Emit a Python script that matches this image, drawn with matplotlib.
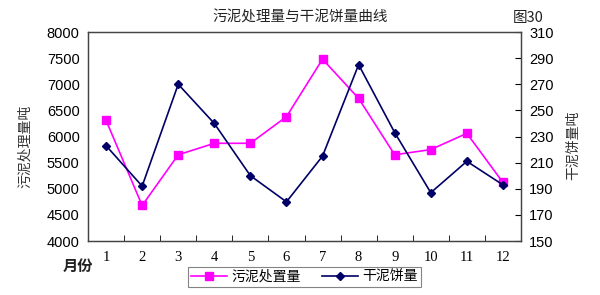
import matplotlib
matplotlib.use("Agg")
import matplotlib.pyplot as plt
import numpy as np

plt.rcParams['font.family'] = ['Noto Sans CJK SC', 'DejaVu Sans']

months = ["1", "2", "3", "4", "5", "6", "7", "8", "9", "10", "11", "12"]
sludge = [6310, 4680, 5650, 5870, 5870, 6380, 7480, 6730, 5650, 5750, 6060, 5120]
cake = [223, 192, 270, 240, 200, 180, 215, 285, 233, 187, 211, 193]
left_ticks = [4000, 4500, 5000, 5500, 6000, 6500, 7000, 7500, 8000]
right_ticks = [150, 170, 190, 210, 230, 250, 270, 290, 310]

fig = plt.figure(figsize=(6, 2.95), dpi=100)
ax = fig.add_axes([0.1467, 0.183, 0.7216, 0.7085])
ax2 = ax.twinx()

x = np.arange(1, len(months) + 1)
l1, = ax.plot(x, sludge, color="#FF00FF", marker="s", markersize=6,
              linewidth=1.2, label="污泥处置量")
l2, = ax2.plot(x, cake, color="#000066", marker="D", markersize=4.5,
               linewidth=1.2, label="干泥饼量")

ax.set_xlim(0.5, 12.5)
ax.set_ylim(4000, 8000)
ax2.set_ylim(150, 310)
ax.set_yticks(left_ticks)
ax2.set_yticks(right_ticks)
ax.set_xticks(x)
ax.set_xticklabels(months, family="Liberation Serif", fontsize=10.5)
ax.set_xticks(np.arange(0.5, 13, 1), minor=True)
ax.tick_params(axis="x", which="major", length=0, pad=7)
ax.tick_params(axis="x", which="minor", direction="in", length=4)
ax.tick_params(axis="y", direction="in", length=0, labelsize=10.5, pad=6)
ax2.tick_params(axis="y", direction="in", length=4, labelsize=10.5, pad=6)
for lab in ax.get_yticklabels() + ax2.get_yticklabels():
    lab.set_family("Liberation Sans")

for sp in list(ax.spines.values()) + list(ax2.spines.values()):
    sp.set_color("#444444")
    sp.set_linewidth(0.9)

fig.text(0.5, 0.94, "污泥处理量与干泥饼量曲线", ha="center", va="center",
         fontsize=10.5, color="#222222")
fig.text(0.88, 0.94, "图30", ha="center", va="center", fontsize=10.5,
         color="#222222")
fig.text(0.042, 0.505, "污泥处理量吨", rotation=90, ha="center", va="center",
         fontsize=10, color="#333333")
fig.text(0.955, 0.508, "干泥饼量吨", rotation=90, ha="center", va="center",
         fontsize=10, color="#333333")
fig.text(0.13, 0.1, "月份", ha="center", va="center", fontsize=11,
         fontweight="bold", color="#222222")

leg = fig.legend(handles=[l1, l2], loc="center", bbox_to_anchor=(0.507, 0.061),
                 ncol=2, frameon=True, fancybox=False, fontsize=10,
                 handlelength=2.6, columnspacing=1.5, borderpad=0.25,
                 handletextpad=0.3)
leg.get_frame().set_edgecolor("#666666")
leg.get_frame().set_linewidth(0.8)

fig.savefig("out.png", dpi=100)
